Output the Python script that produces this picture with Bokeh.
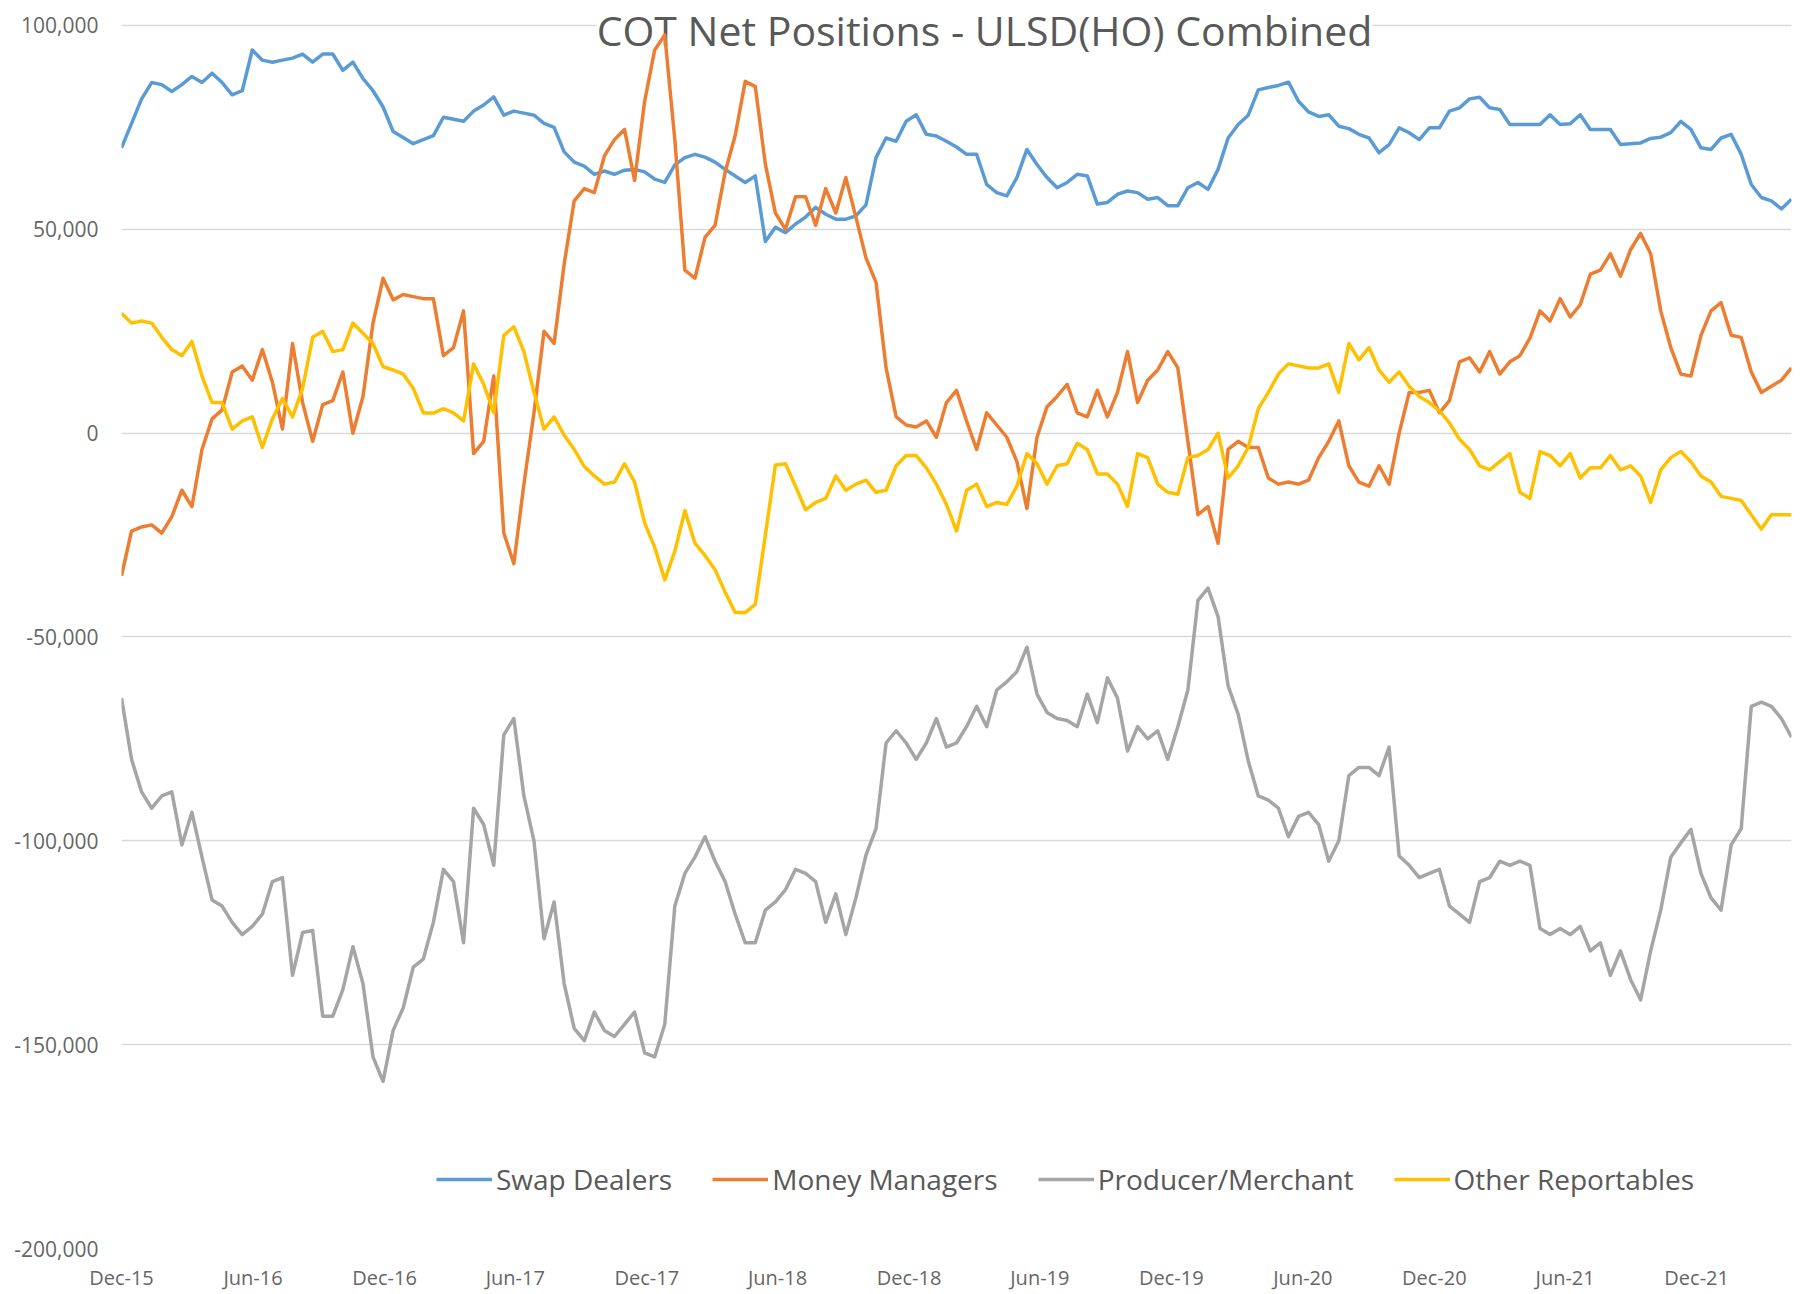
import pandas as pd
from bokeh.plotting import figure
from bokeh.models import (FixedTicker, DatetimeTickFormatter, NumeralTickFormatter,
                          Range1d, Label, Legend, LegendItem, ColumnDataSource)
from bokeh.embed import file_html
from bokeh.resources import INLINE

# ---------------- data (net positions, thousands of contracts, bi-weekly from Dec-2015) -------------
START_DATE = "2015-12-01"
STEP = "14D"

swap_dealers_k = [
    70, 76, 82, 86, 85.5, 83.8, 85.5, 87.5, 86, 88.3, 86, 83, 84, 94, 91.5, 91, 91.5, 92, 93, 91,
    93, 93, 89, 91, 87, 84, 80, 74, 72.5, 71, 72, 73, 77.5, 77, 76.5, 79, 80.5, 82.5, 78, 79,
    78.5, 78, 76, 75, 69, 66.5, 65.5, 63.5, 64.3, 63.5, 64.5, 64.7, 64.1, 62.3, 61.5, 65.8, 67.6, 68.4, 67.7, 66.5,
    64.7, 63.1, 61.5, 63.1, 47, 50.5, 49.2, 51.3, 53, 55.4, 53.7, 52.5, 52.5, 53.3, 56, 67.6, 72.4, 71.6, 76.5, 78.1,
    73.3, 72.9, 71.6, 70.2, 68.4, 68.4, 61, 59, 58.2, 62.7, 69.6, 65.9, 62.7, 60.2, 61.5, 63.5, 63.1, 56.2, 56.6, 58.6,
    59.4, 59, 57.4, 57.8, 55.8, 55.8, 60.2, 61.5, 59.8, 64.7, 72.4, 75.7, 78, 84.2, 84.8, 85.3, 86.1, 81.4, 78.8, 77.7,
    78.1, 75.3, 74.7, 73.3, 72.4, 68.8, 70.8, 74.9, 73.7, 72, 74.9, 74.9, 79, 79.8, 82, 82.4, 79.8, 79.4, 75.7, 75.7,
    75.7, 75.7, 78.1, 75.7, 75.9, 78.1, 74.5, 74.5, 74.5, 70.8, 71, 71.2, 72.3, 72.6, 73.7, 76.5, 74.5, 70, 69.6, 72.4,
    73.3, 68.4, 61, 57.8, 57, 55, 57.4,
]

money_managers_k = [
    -35, -24, -23, -22.5, -24.5, -20.5, -14, -18, -4, 3.5, 5.7, 15, 16.5, 13, 20.5, 12.5, 1, 22, 7.5, -2,
    7, 8, 15, 0, 9, 27, 38, 32.7, 34, 33.5, 33, 33, 19, 21, 30, -5, -2, 14, -24.5, -32,
    -12.5, 5, 25, 22, 41.5, 57, 60, 59, 68, 72, 74.5, 62, 81.4, 94, 97.7, 72, 40, 38, 48, 51,
    64, 73, 86.3, 85, 66, 54, 50, 58, 58, 51, 60, 54, 62.7, 53, 43, 37, 16, 4, 2, 1.5,
    3, -1, 7.5, 10.5, 3, -4, 5, 2, -1, -7, -18.5, -1, 6.5, 9, 12, 5, 4, 10.5, 4, 10,
    20, 7.5, 13, 15.5, 20, 16, -2, -20, -18, -27, -4, -2, -3.5, -3.5, -11, -12.5, -12, -12.5, -11.5, -6,
    -2, 3, -8, -12, -13, -8, -12.5, 0, 10, 10, 10.5, 5, 8, 17.5, 18.5, 15, 20, 14.5, 17.5, 19,
    23.3, 30, 27.5, 33, 28.5, 31.5, 39, 40, 44, 38.5, 45, 49, 44, 30, 21, 14.5, 14, 24, 30, 32,
    24, 23.5, 15, 10, 11.5, 13, 16,
]

producer_merchant_k = [
    -65, -80, -88, -92, -89, -88, -101, -93, -104, -114.5, -116, -120, -123, -121, -118, -110, -109, -133, -122.5, -122,
    -143, -143, -136.5, -126, -135, -153, -159, -146.5, -141, -131, -129, -120, -107, -110, -125, -92, -96, -106, -74, -70,
    -89, -100, -124, -115, -135, -146, -149, -142, -146.5, -148, -145, -142, -152, -153, -145, -116, -108, -104, -99, -105,
    -110, -118, -125, -125, -117, -115, -112, -107, -108, -110, -120, -113, -123, -114, -103.5, -97, -76, -73, -76, -80,
    -76, -70, -77, -76, -72, -67, -72, -63, -61, -58.5, -52.5, -64, -68.5, -70, -70.5, -72, -64, -71, -60, -65,
    -78, -72, -75, -73, -80, -72, -63, -41, -38, -45, -62, -69, -80.4, -89, -90, -92, -99, -94, -93, -96,
    -105, -100, -84, -82, -82, -84, -77, -103.7, -106, -109, -108, -107, -116, -118, -120, -110, -109, -105, -106, -105,
    -106, -121.5, -123, -121.5, -123, -121, -127, -125, -133, -127, -134, -139, -127, -117, -104, -100.5, -97.2, -108, -114, -117,
    -101, -97, -67, -66, -67, -70, -74.6,
]

other_reportables_k = [
    29.4, 27, 27.5, 27, 23.5, 20.5, 19, 22.5, 14, 7.5, 7.5, 1, 3, 4, -3.5, 3.5, 8.5, 4, 11, 23.5,
    25, 20, 20.5, 27, 24.5, 22, 16.3, 15.5, 14.5, 11, 5, 4.9, 6, 5, 3, 17, 12, 5, 24, 26.1,
    20, 10, 1, 4, -0.5, -4, -8.2, -10.5, -12.5, -12, -7.5, -12, -22, -28, -36, -29, -19, -27, -30, -33.5,
    -39, -44, -44, -42, -25, -7.8, -7.5, -13, -18.8, -17, -16, -10.5, -14, -12.5, -11.5, -14.5, -14, -8, -5.5, -5.5,
    -8.5, -12.5, -17.5, -24, -14, -12.5, -18, -17, -17.5, -13, -5, -7.5, -12.5, -8, -7.5, -2.5, -4, -10, -10, -12.5,
    -18, -5, -6, -12.5, -14.5, -15, -6, -5.5, -4, 0, -11, -8, -3.5, 6, 10, 14.5, 17, 16.5, 16, 16,
    17, 10, 22, 18, 21, 15.5, 12.5, 15, 11.5, 9, 7.5, 5.5, 2.5, -1.5, -4, -8, -9, -7, -5, -14.5,
    -16, -4.5, -5.5, -8, -5, -11, -8.5, -8.5, -5.5, -9, -8, -10.5, -17, -9, -6, -4.5, -7, -10.5, -12, -15.5,
    -16, -16.5, -20, -23.5, -20, -20, -20,
]

series_names = ["Swap Dealers", "Money Managers", "Producer/Merchant", "Other Reportables"]
series_values_k = [swap_dealers_k, money_managers_k, producer_merchant_k, other_reportables_k]
series_colors = ["#5B9BD5", "#ED7D31", "#A5A5A5", "#FFC000"]

x_tick_dates = ["2015-12-01", "2016-06-01", "2016-12-01", "2017-06-01", "2017-12-01", "2018-06-01",
                "2018-12-01", "2019-06-01", "2019-12-01", "2020-06-01", "2020-12-01", "2021-06-01",
                "2021-12-01"]
y_ticks = [-200000, -150000, -100000, -50000, 0, 50000, 100000]
title_text = "COT Net Positions - ULSD(HO) Combined"

# ---------------- figure ----------------
dates = pd.date_range(START_DATE, periods=len(swap_dealers_k), freq=STEP)

W, H = 1801, 1294
FONT = "Open Sans"
p = figure(width=W, height=H, x_axis_type="datetime", output_backend="svg",
           toolbar_location=None, min_border_left=121, min_border_right=10,
           min_border_top=0, min_border_bottom=46,
           x_range=Range1d(dates[0], dates[-1]), y_range=Range1d(-200000, 106132))
p.outline_line_color = None
p.background_fill_color = "white"
p.border_fill_color = "white"

# title sits behind the series lines but hides the top gridline, as in the original
title = Label(x=863, y=1247, x_units="screen", y_units="screen", text=title_text,
              text_align="center", text_baseline="top", text_font=FONT,
              text_font_size="41px", text_color="#595959", level="underlay",
              background_fill_color="white", background_fill_alpha=1.0)
p.add_layout(title)

items = []
for name, vals, col in zip(series_names, series_values_k, series_colors):
    src = ColumnDataSource(dict(x=dates, y=[v * 1000 for v in vals]))
    r = p.line("x", "y", source=src, line_color=col, line_width=3.5, line_join="round")
    items.append(LegendItem(label=name, renderers=[r]))

# axes
tick_ms = [pd.Timestamp(d).value // 10**6 for d in x_tick_dates]
p.xaxis.ticker = FixedTicker(ticks=tick_ms)
fmt = "%b-%y"
p.xaxis.formatter = DatetimeTickFormatter(days=fmt, months=fmt, years=fmt, hours=fmt,
                                          minutes=fmt, seconds=fmt, milliseconds=fmt,
                                          microseconds=fmt, minsec=fmt, hourmin=fmt)
p.yaxis.ticker = FixedTicker(ticks=y_ticks)
p.yaxis.formatter = NumeralTickFormatter(format="0,0")
for ax in (p.xaxis, p.yaxis):
    ax.axis_line_color = None
    ax.major_tick_line_color = None
    ax.minor_tick_line_color = None
    ax.major_tick_out = 0
    ax.major_tick_in = 0
    ax.minor_tick_out = 0
    ax.minor_tick_in = 0
    ax.major_label_text_font = FONT
    ax.major_label_text_color = "#666666"
p.xaxis.major_label_text_font_size = "20px"
p.yaxis.major_label_text_font_size = "21px"
p.xaxis.major_label_standoff = 15
p.yaxis.major_label_standoff = 23
p.xgrid.grid_line_color = None
p.ygrid.grid_line_color = "#D9D9D9"
p.ygrid.grid_line_width = 1.5

legend = Legend(items=items, orientation="horizontal", location=(315, 50),
                label_text_font=FONT, label_text_font_size="28px", label_text_color="#595959",
                glyph_width=56, glyph_height=20, label_standoff=4, spacing=40,
                padding=0, margin=0, background_fill_alpha=0, border_line_color=None)
p.add_layout(legend)

open("out.html", "w").write(file_html(p, INLINE))
